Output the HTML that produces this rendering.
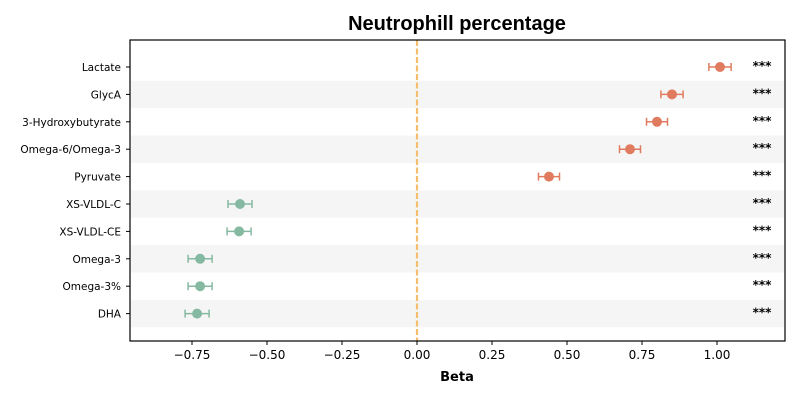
<!DOCTYPE html>
<html><head><meta charset="utf-8"><style>
body{margin:0;background:#fff;}
svg{display:block;font-family:"DejaVu Sans","Liberation Sans",sans-serif;}
</style></head><body>
<svg id="chart" width="800" height="400">
<text x="457" y="30" text-anchor="middle" font-size="20" font-weight="bold" font-family="Liberation Sans, sans-serif">Neutrophill percentage</text>
<g id="bands"></g><g id="grid"></g><g id="marks"></g>
<rect x="130" y="40" width="655" height="301" fill="none" stroke="#000" stroke-width="1.2"/>
<g id="axes"></g>
<text x="457" y="381" text-anchor="middle" font-size="13" font-weight="bold">Beta</text>
</svg>
<script>
const categories=["Lactate","GlycA","3-Hydroxybutyrate","Omega-6/Omega-3","Pyruvate","XS-VLDL-C","XS-VLDL-CE","Omega-3","Omega-3%","DHA"];
const betas=[1.01,0.85,0.80,0.71,0.44,-0.59,-0.593,-0.723,-0.723,-0.733];
const errs=[0.037,0.037,0.035,0.035,0.035,0.04,0.04,0.04,0.04,0.04];
const sig=["***","***","***","***","***","***","***","***","***","***"];
const xTicks=[-0.75,-0.5,-0.25,0,0.25,0.5,0.75,1.0];
const xTickLabels=["\u22120.75","\u22120.50","\u22120.25","0.00","0.25","0.50","0.75","1.00"];
const NS="http://www.w3.org/2000/svg";
const xs=v=>417+300*v;
const ys=i=>67+27.4*i;
function mk(tag,attrs,parent,text){const e=document.createElementNS(NS,tag);for(const k in attrs)e.setAttribute(k,attrs[k]);if(text!==undefined)e.textContent=text;document.getElementById(parent).appendChild(e);return e;}
categories.forEach((c,i)=>{
 if(i%2===1){const b=mk('rect',{x:131,y:ys(i)-13.7,width:653,height:27.4,fill:'#f5f5f5'},'bands');
 
 }
 const t=mk('text',{x:121,y:ys(i)+4,'text-anchor':'end','font-size':10.5},'axes',c);
 
 
 mk('line',{x1:126,x2:130,y1:ys(i),y2:ys(i),stroke:'#000'},'axes');
 const col=betas[i]>0?'#e07b5f':'#86b9a2';
 const y=ys(i),x0=xs(betas[i]-errs[i]),x1=xs(betas[i]+errs[i]);
 const g=mk('g',{},'marks');
 
 
 [[x0,y,x1,y],[x0,y-4,x0,y+4],[x1,y-4,x1,y+4]].forEach(l=>{const e=document.createElementNS(NS,'line');e.setAttribute('x1',l[0]);e.setAttribute('y1',l[1]);e.setAttribute('x2',l[2]);e.setAttribute('y2',l[3]);e.setAttribute('stroke',col);e.setAttribute('stroke-width',1.5);g.appendChild(e);});
 const p=document.createElementNS(NS,'circle');p.setAttribute('cx',xs(betas[i]));p.setAttribute('cy',y);p.setAttribute('r',5);p.setAttribute('fill',col);g.appendChild(p);
 const s=mk('text',{x:762,y:y+3,'text-anchor':'middle','font-size':12,'font-weight':'bold'},'marks',sig[i]);
 
 
});
const zl=mk('line',{x1:xs(0),x2:xs(0),y1:40,y2:341,stroke:'#f5bd6e','stroke-width':2.2,'stroke-dasharray':'6,2.5'},'grid');


xTicks.forEach((v,i)=>{
 mk('line',{x1:xs(v),x2:xs(v),y1:341,y2:345,stroke:'#000'},'axes');
 const t=mk('text',{x:xs(v),y:359,'text-anchor':'middle','font-size':12},'axes',xTickLabels[i]);
 
 
});
</script>
</body></html>
